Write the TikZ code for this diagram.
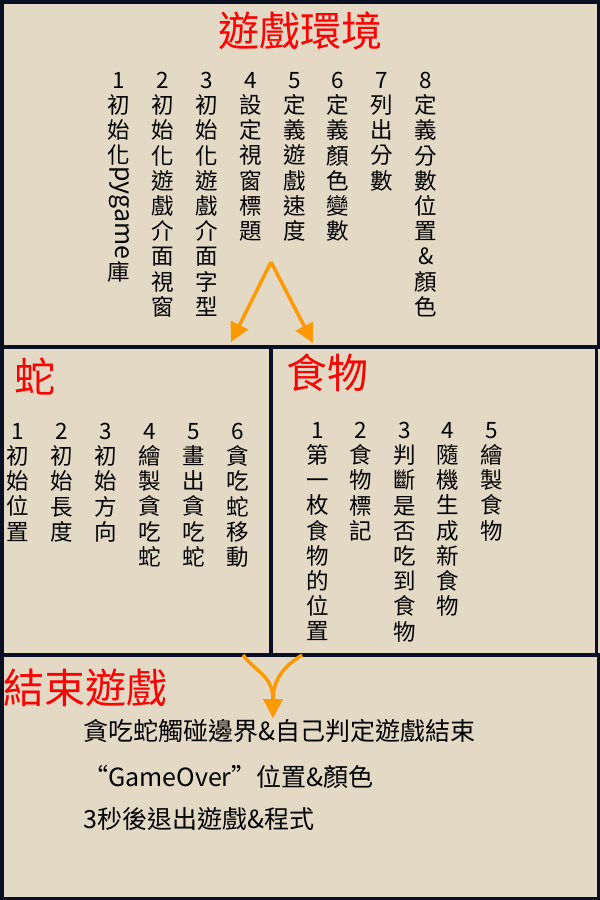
\documentclass[tikz,border=0pt]{standalone}
\usepackage{fontspec}
\setmainfont{Noto Sans CJK TC}
\usetikzlibrary{arrows.meta}

\definecolor{paper}{RGB}{227,217,197}
\definecolor{frame}{RGB}{10,16,36}
\definecolor{titlered}{RGB}{255,0,0}
\definecolor{flow}{RGB}{255,153,0}

\begin{document}
\begin{tikzpicture}[x=1pt,y=-1pt,
  panel/.style={draw=frame, line width=3.5pt, inner sep=0pt, outer sep=0pt, anchor=north west},
  heading/.style={text=titlered, font=\fontsize{41}{41}\selectfont, inner sep=0pt},
  stack/.style={align=center, inner sep=0pt, anchor=north, font=\fontsize{22.5}{25.2}\selectfont},
  glyph/.style={inner sep=0pt, font=\fontsize{22.5}{25.2}\selectfont},
  item/.style={inner sep=0pt, anchor=west, font=\fontsize{25}{26}\selectfont},
  flowarrow/.style={draw=flow, line width=3.5pt, -{Triangle[length=19pt,width=19pt]}}
]
% page and background
\fill[paper] (0,0) rectangle (600,900);
\useasboundingbox (0,0) rectangle (600,900);

% panels
\node[panel, minimum width=596.5pt, minimum height=345.25pt] (env) at (1.75,1.75) {};
\node[panel, minimum width=269.25pt, minimum height=308pt] (snake) at (1.75,347) {};
\node[panel, minimum width=325.5pt, minimum height=308pt] (food) at (271,347) {};
\node[panel, minimum width=596.5pt, minimum height=243.25pt] (finish) at (1.75,655) {};

% headings
\node[heading] (envtitle) at (300,31) {遊戲環境};
\node[heading] (snaketitle) at (35,377) {蛇};
\node[heading] (foodtitle) at (327,373) {食物};
\node[heading, anchor=west] (finishtitle) at (3,688) {結束遊戲};

% game setup steps
\node[stack] (e1) at (119,72) {1\\初\\始\\化};
\node[glyph, rotate=-90, font=\fontsize{25}{26}\selectfont] (e1py) at (119,213) {pygame};
\node[glyph] (e1ku) at (119,272) {庫};
\node[stack] (e2) at (163,72) {2\\初\\始\\化\\遊\\戲\\介\\面\\視\\窗};
\node[stack] (e3) at (207,72) {3\\初\\始\\化\\遊\\戲\\介\\面\\字\\型};
\node[stack] (e4) at (251,72) {4\\設\\定\\視\\窗\\標\\題};
\node[stack] (e5) at (295,72) {5\\定\\義\\遊\\戲\\速\\度};
\node[stack] (e6) at (338,72) {6\\定\\義\\顏\\色\\變\\數};
\node[stack] (e7) at (382,72) {7\\列\\出\\分\\數};
\node[stack] (e8) at (426,72) {8\\定\\義\\分\\數\\位\\置\\\&\\顏\\色};

% snake steps
\node[stack] (s1) at (18,423) {1\\初\\始\\位\\置};
\node[stack] (s2) at (62,423) {2\\初\\始\\長\\度};
\node[stack] (s3) at (106,423) {3\\初\\始\\方\\向};
\node[stack] (s4) at (150,423) {4\\繪\\製\\貪\\吃\\蛇};
\node[stack] (s5) at (194,423) {5\\畫\\出\\貪\\吃\\蛇};
\node[stack] (s6) at (238,423) {6\\貪\\吃\\蛇\\移\\動};

% food steps
\node[stack] (f1) at (318,422) {1\\第\\一\\枚\\食\\物\\的\\位\\置};
\node[stack] (f2) at (361,422) {2\\食\\物\\標\\記};
\node[stack] (f3) at (405,422) {3\\判\\斷\\是\\否\\吃\\到\\食\\物};
\node[stack] (f4) at (448,422) {4\\隨\\機\\生\\成\\新\\食\\物};
\node[stack] (f5) at (492,422) {5\\繪\\製\\食\\物};

% game over steps
\node[item] (g1) at (83,731) {貪吃蛇觸碰邊界\&自己判定遊戲結束};
\node[item] (g2) at (83,777) {\makebox[1em][r]{“}GameOver\makebox[1em][l]{”}位置\&顏色};
\node[item] (g3) at (83,819) {3秒後退出遊戲\&程式};

% flow between panels
\coordinate (split) at (271,262);
\coordinate (toSnake) at (231,342);
\coordinate (toFood) at (313,343);
\draw[flowarrow] (split) -- (toSnake);
\draw[flowarrow] (split) -- (toFood);

\coordinate (fromSnake) at (243,655);
\coordinate (fromFood) at (302,655);
\coordinate (intoEnd) at (273,718);
\draw[flowarrow] (fromSnake) .. controls (256,672) and (273,676) .. (intoEnd);
\draw[flowarrow] (fromFood) .. controls (288,664) and (273,676) .. (intoEnd);
\end{tikzpicture}
\end{document}
